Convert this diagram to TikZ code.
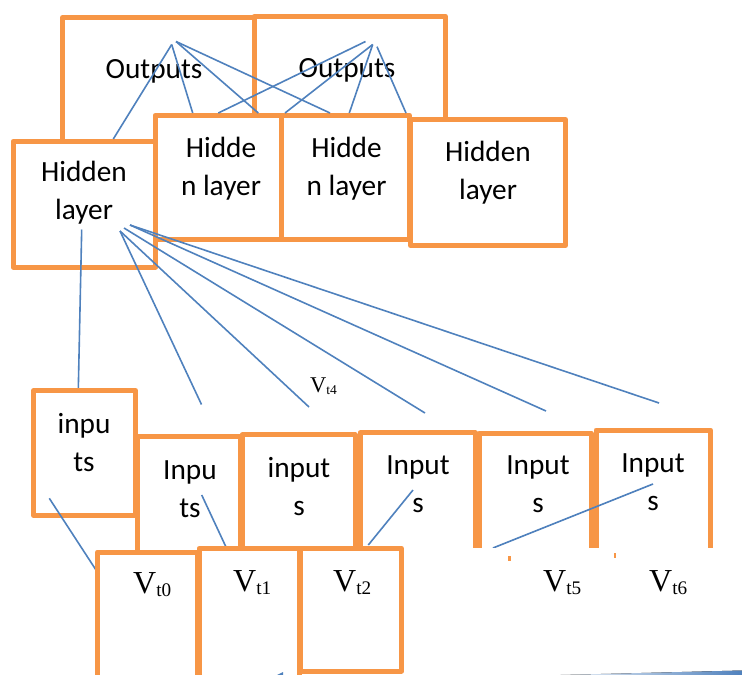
\documentclass[tikz,border=0pt]{standalone}
\usepackage{fontspec}
\setmainfont{Carlito}
\newfontfamily\timesfont{Liberation Serif}
\usepackage{graphicx}

\definecolor{boxorange}{HTML}{F79646}
\definecolor{linkblue}{HTML}{4F81BD}

% V with a small t-index set a little below the line
\newcommand{\vsub}[1]{V\raisebox{-0.1em}{\scalebox{0.6}{t#1}}}

\begin{document}
\begin{tikzpicture}[x=1pt, y=-1pt,
    cell/.style={draw=boxorange, line width=5pt, line join=round, fill=white,
                 inner sep=0pt, outer sep=0pt, anchor=north west},
    txt/.style={anchor=base, align=center, inner sep=0pt,
                font=\fontsize{29.3}{38}\selectfont},
    vlab/.style={anchor=base west, inner sep=0pt,
                 font=\timesfont\fontsize{32}{32}\selectfont},
    link/.style={draw=linkblue, line width=1.6pt}]
    \useasboundingbox (0,0) rectangle (742,675);
    \clip (0,0) rectangle (742,675);

    % output boxes
    \node[cell, minimum width=191.5pt, minimum height=132.5pt] (out1) at (62.5,17.5) {};
    \node[cell, minimum width=191.5pt, minimum height=134pt] (out2) at (254,16.3) {};
    \node[txt] (out1txt) at (154,78) {Outputs};
    \node[txt] (out2txt) at (347,77) {Outputs};

    % hidden layer boxes (text nodes sit on their last baseline)
    \node[cell, minimum width=142.8pt, minimum height=125.7pt] (hid1) at (13,141.3) {};
    \node[cell, minimum width=126pt, minimum height=124.2pt] (hid2) at (155,115.3) {};
    \node[cell, minimum width=128.5pt, minimum height=124.2pt] (hid3) at (281,115.3) {};
    \node[cell, minimum width=155pt, minimum height=126pt] (hid4) at (410.5,119.5) {};
    \node[txt] (hid1txt) at (84,219) {Hidden\\layer};
    \node[txt] (hid2txt) at (221,195) {Hidde\\n layer};
    \node[txt] (hid3txt) at (346.5,195) {Hidde\\n layer};
    \node[txt] (hid4txt) at (488,199) {Hidden\\layer};

    % end points of the links
    \coordinate (o1a) at (171.7,44.5);
    \coordinate (o1b) at (176,41.5);
    \coordinate (o2a) at (365.5,41.5);
    \coordinate (o2b) at (372.7,44.5);
    \coordinate (o2c) at (377,46.7);
    \coordinate (h1top) at (113.3,139);
    \coordinate (h2a) at (192.7,113);
    \coordinate (h2b) at (218.3,113);
    \coordinate (h2c) at (258.3,113);
    \coordinate (h3a) at (285,113);
    \coordinate (h3b) at (330,113);
    \coordinate (h3c) at (349.3,113);
    \coordinate (h3d) at (406,113);

    \path[link]
        (o1a) edge (h1top)
              edge (h2a)
        (o1b) edge (h2c)
              edge (h3b)
        (o2a) edge (h2b)
        (o2b) edge (h3a)
              edge (h3c)
        (o2c) edge (h3d);

    \coordinate (h1v) at (81.7,229.5);
    \coordinate (h1s1) at (120,231);
    \coordinate (h1s2) at (124,228);
    \coordinate (h1s3) at (130,225);
    \coordinate (inAtop) at (78.3,389);
    \coordinate (e1) at (201.5,404.5);
    \coordinate (e2) at (309,407);
    \coordinate (e3) at (425,413);
    \coordinate (e4) at (546,411);
    \coordinate (e5) at (659,403);

    \path[link]
        (h1v) edge (inAtop)
        (h1s1) edge (e1)
               edge (e2)
        (h1s2) edge (e3)
        (h1s3) edge (e4)
               edge (e5);

    \node[vlab, font=\timesfont\fontsize{22.5}{22.5}\selectfont] (vt4) at (310,392) {\vsub{4}};

    % input boxes
    \node[cell, minimum width=101.7pt, minimum height=125pt] (inA) at (33.8,390.5) {};
    \node[cell, minimum width=103pt, minimum height=123.5pt] (inB) at (137.8,436.5) {};
    \node[cell, minimum width=113pt, minimum height=125pt] (inC) at (242,434.8) {};
    \node[cell, minimum width=115pt, minimum height=127pt] (inD) at (360,432.8) {};
    \node[cell, minimum width=112pt, minimum height=127pt] (inE) at (479,433) {};
    \node[cell, minimum width=114.5pt, minimum height=130pt] (inF) at (596,430) {};
    \node[txt] (inAtxt) at (84,471) {inpu\\ts};
    \node[txt] (inBtxt) at (190,517) {Inpu\\ts};
    \node[txt] (inCtxt) at (299,515) {input\\s};
    \node[txt] (inDtxt) at (418,512) {Input\\s};
    \node[txt] (inEtxt) at (538,512) {Input\\s};
    \node[txt] (inFtxt) at (653,510.5) {Input\\s};

    \coordinate (a1) at (49.3,498.3);
    \coordinate (a2) at (96,570);
    \coordinate (b1) at (201.7,495);
    \coordinate (b2) at (226,547);
    \coordinate (d1) at (413,490);
    \coordinate (d2) at (368.3,545);
    \coordinate (f1) at (653,484);
    \coordinate (f2) at (493,548);

    \path[link]
        (a1) edge (a2)
        (b1) edge (b2)
        (d1) edge (d2)
        (f1) edge (f2);

    % lower right is blanked out
    \fill[white] (402,548.3) rectangle (742,676);
    \fill[boxorange] (508,556) rectangle (511,561);
    \fill[boxorange] (614,553) rectangle (615.5,558);

    % value boxes
    \node[cell, minimum width=100pt, minimum height=200pt] (v0) at (97.5,552) {};
    \node[cell, minimum width=100pt, minimum height=200pt] (v1) at (199,548.5) {};
    \node[cell, minimum width=100.7pt, minimum height=122.7pt] (v2) at (300.8,548.3) {};
    \node[vlab] (v0txt) at (133,593) {\vsub{0}};
    \node[vlab] (v1txt) at (233,591.5) {\vsub{1}};
    \node[vlab] (v2txt) at (333,591.5) {\vsub{2}};
    \node[vlab] (v5txt) at (543,591.5) {\vsub{5}};
    \node[vlab] (v6txt) at (649,591.5) {\vsub{6}};

    \fill[linkblue] (276,675.5) -- (283,672) -- (283,676) -- cycle;
    \fill[left color=white, right color=linkblue] (540,675.5) -- (742,670.5) -- (742,676) -- (540,676) -- cycle;
\end{tikzpicture}
\end{document}
